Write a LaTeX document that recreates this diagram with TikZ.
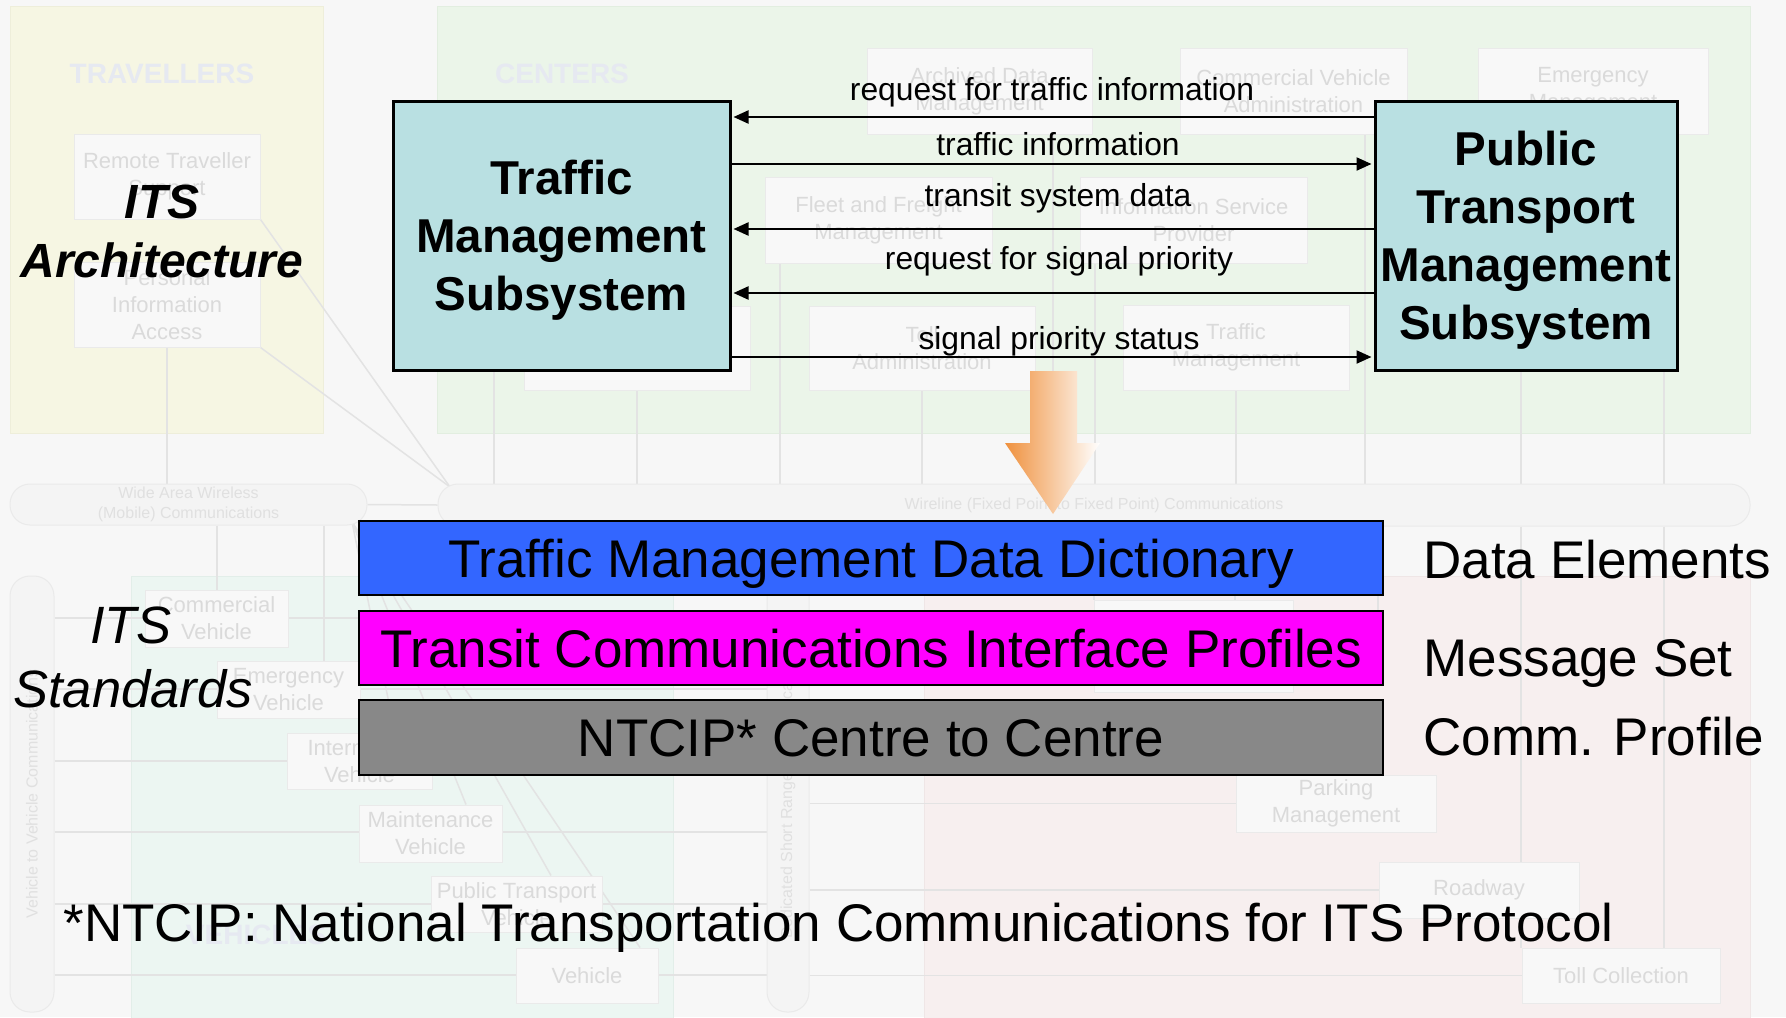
\documentclass[tikz,border=0pt]{standalone}
\usepackage{fontspec}
\setmainfont{Liberation Sans}
\usetikzlibrary{arrows.meta}

\definecolor{pagebg}{HTML}{F7F7F7}
\definecolor{travfill}{HTML}{F6F6E3}
\definecolor{travline}{HTML}{EEEEDA}
\definecolor{centfill}{HTML}{EBF5E9}
\definecolor{centline}{HTML}{E2EEE0}
\definecolor{vehfill}{HTML}{ECF6F2}
\definecolor{vehline}{HTML}{E2EEE9}
\definecolor{fieldfill}{HTML}{F7EFEF}
\definecolor{fieldline}{HTML}{EFE6E6}
\definecolor{boxfill}{HTML}{F8F8F8}
\definecolor{boxline}{HTML}{EAEAEA}
\definecolor{fadetxt}{HTML}{DADADA}
\definecolor{titletxt}{HTML}{E6E9F1}
\definecolor{linkc}{HTML}{E3E3E3}
\definecolor{pillfill}{HTML}{F4F4F4}
\definecolor{pilltxt}{HTML}{E0E0E0}
\definecolor{tealfill}{HTML}{B9E0E2}
\definecolor{ddblue}{HTML}{3366FF}
\definecolor{msgmag}{HTML}{FF00FF}
\definecolor{commgrey}{HTML}{888888}
\definecolor{arroworange}{HTML}{EF913E}

\newcommand\setfs[2]{\fontsize{#1}{#2}\selectfont}

\pgfdeclarelayer{regions}
\pgfdeclarelayer{links}
\pgfsetlayers{regions,links,main}

% faded architecture box given by its corners (pixel units)
\newcommand\fadedbox[6]{%
  \pgfmathsetmacro\bxw{(#4-#2)*0.5}%
  \pgfmathsetmacro\bxh{(#5-#3)*0.5}%
  \node[fbox, minimum width=\bxw pt, minimum height=\bxh pt] (#1)
    at ({(#2+#4)/2},{(#3+#5)/2}) {#6};}
% communication "sausage" given by its corners
\newcommand\pillbox[7]{%
  \pgfmathsetmacro\bxw{(#4-#2)*0.5}%
  \pgfmathsetmacro\bxh{(#5-#3)*0.5}%
  \node[pill, minimum width=\bxw pt, minimum height=\bxh pt] (#1)
    at ({(#2+#4)/2},{(#3+#5)/2}) {};
  \node[pilltext, #6] (#1-t) at (#1.center) {#7};}

\begin{document}
\begin{tikzpicture}[x=0.5pt,y=-0.5pt,
  fbox/.style={draw=boxline, fill=boxfill, line width=0.5pt, inner sep=0pt,
    align=center, text=fadetxt, font=\setfs{11pt}{13.4pt}},
  pill/.style={draw=boxline, fill=pillfill, line width=0.5pt, inner sep=0pt,
    rounded corners=10pt},
  pilltext/.style={text=pilltxt, font=\setfs{8pt}{10pt}, align=center, inner sep=0pt},
  regtitle/.style={text=titletxt, font=\bfseries\setfs{14pt}{16pt}, inner sep=0pt},
  link/.style={draw=linkc, line width=0.75pt},
  mainbox/.style={draw=black, line width=1.5pt, fill=tealfill, inner sep=0pt,
    align=center, font=\bfseries\setfs{23.75pt}{29pt}, text depth=0pt},
  flow/.style={line width=1.1pt, -{Triangle[length=7.5pt,width=6.5pt]}, shorten >=1pt},
  flowlbl/.style={font=\setfs{15.9pt}{19pt}, inner sep=0pt, anchor=base},
  stdbar/.style={draw=black, line width=1.4pt, inner sep=0pt,
    minimum width=512pt, minimum height=37pt,
    font=\setfs{26.5pt}{32pt}, text height=19pt, text depth=0pt},
  bigtxt/.style={font=\setfs{26.5pt}{32pt}, inner sep=0pt, anchor=base west},
]
\useasboundingbox (0,0) rectangle (1786,1017);

% ---------- background architecture ----------
\begin{pgfonlayer}{regions}
  \fill[pagebg] (0,0) rectangle (1786,1017);
  \filldraw[fill=travfill, draw=travline, line width=0.5pt] (10,6) rectangle (323,433);
  \filldraw[fill=centfill, draw=centline, line width=0.5pt] (437,6) rectangle (1750,433);
  \filldraw[fill=vehfill, draw=vehline, line width=0.5pt] (131,576) rectangle (673,1030);
  \filldraw[fill=fieldfill, draw=fieldline, line width=0.5pt] (924,576) rectangle (1750,1030);
\end{pgfonlayer}

\node[regtitle] (travtitle) at (162,74) {TRAVELLERS};
\node[regtitle] (centtitle) at (562,74) {CENTERS};
\node[regtitle] (vehtitle) at (256,935) {VEHICLES};

% traveller subsystems
\fadedbox{rts}{74}{134}{260}{219}{Remote Traveller\\Support}
\fadedbox{pia}{74}{262}{260}{347}{Personal\\Information\\Access}

% centre subsystems
\fadedbox{adm}{867}{48}{1092}{134}{Archived Data\\Management}
\fadedbox{cva}{1180}{48}{1407}{134}{Commercial Vehicle\\Administration}
\fadedbox{em}{1478}{48}{1708}{134}{Emergency\\Management}
\fadedbox{ffm}{765}{177}{992}{263}{Fleet and Freight\\Management}
\fadedbox{isp}{1080}{177}{1307}{263}{Information Service\\Provider}
\fadedbox{chid}{524}{306}{750}{390}{}
\fadedbox{toll}{809}{306}{1035}{390}{Toll\\Administration}
\fadedbox{trm}{1123}{305}{1349}{390}{Traffic\\Management}

% vehicle subsystems
\fadedbox{cv}{145}{590}{288}{647}{Commercial\\Vehicle}
\fadedbox{ev}{217}{661}{360}{718}{Emergency\\Vehicle}
\fadedbox{iv}{287}{733}{432}{789}{Intermodal\\Vehicle}
\fadedbox{mv}{359}{805}{502}{862}{Maintenance\\Vehicle}
\fadedbox{ptv}{431}{876}{602}{932}{Public Transport\\Vehicle}
\fadedbox{veh}{516}{948}{658}{1003}{Vehicle}

% field subsystems
\fadedbox{fhid}{1094}{600}{1293}{692}{}
\fadedbox{pm}{1236}{775}{1436}{832}{Parking\\Management}
\fadedbox{rw}{1379}{862}{1579}{918}{Roadway}
\fadedbox{tc}{1522}{948}{1720}{1003}{Toll Collection}

% communication channels
\pillbox{waw}{10}{484}{367}{525}{}{Wide Area Wireless\\(Mobile) Communications}
\pillbox{wire}{438}{484}{1750}{526}{}{Wireline (Fixed Point to Fixed Point) Communications}
\pillbox{v2v}{10}{576}{54}{1012}{rotate=90, yshift=0pt}{Vehicle to Vehicle Communications}
\pillbox{dsrc}{767}{576}{809}{1012}{rotate=90}{Dedicated Short Range Communications}

\coordinate (hub) at (450,487);
\coordinate (wawend) at (352,522);

\begin{pgfonlayer}{links}
  \draw[link] (pia.south) -- (pia.south |- waw.north);
  \draw[link] (rts.south east) -- (hub);
  \draw[link] (pia.south east) -- (hub);
  \draw[link] (waw.east) -- (wire.west);
  % centres to wireline
  \draw[link] (494,370) -- (wire.north -| 494,0);
  \draw[link] (chid.south) -- (chid.south |- wire.north);
  \draw[link] (ffm.south -| 780,0) -- (wire.north -| 780,0);
  \draw[link] (toll.south) -- (toll.south |- wire.north);
  \draw[link] (adm.south -| 1053,0) -- (wire.north -| 1053,0);
  \draw[link] (isp.south -| 1095,0) -- (wire.north -| 1095,0);
  \draw[link] (trm.south) -- (trm.south |- wire.north);
  \draw[link] (cva.south -| 1365,0) -- (wire.north -| 1365,0);
  \draw[link] (em.south -| 1521,0) -- (wire.north -| 1521,0);
  \draw[link] (em.south -| 1664,0) -- (wire.north -| 1664,0);
  % wireline to field
  \draw[link] (wire.south -| 1094,0) -- (fhid.north -| 1094,0);
  \draw[link] (wire.south -| 1235,0) -- (fhid.north -| 1235,0);
  \draw[link] (wire.south -| 1378,0) -- (1378,611);
  \draw[link] (wire.south -| 1521,0) -- (tc.north -| 1521,0);
  \draw[link] (wire.south -| 1664,0) -- (tc.north -| 1664,0);
  % wide area wireless to vehicles
  \draw[link] (waw.south -| 217,0) -- (cv.north -| 217,0);
  \draw[link] (waw.south -| 324,0) -- (ev.north -| 324,0);
  \draw[link] (wawend) -- (iv.north -| 395,0);
  \draw[link] (wawend) -- (mv.north -| 466,0);
  \draw[link] (wawend) -- (ptv.north -| 551,0);
  \draw[link] (wawend) -- (veh.north -| 640,0);
  % vehicle to vehicle and short range links
  \foreach \yy in {618,689,761,832,904,975}
    \draw[link] (v2v.east |- 0,\yy) -- (dsrc.west |- 0,\yy);
  \draw[link] (dsrc.east |- pm.west) -- (pm.west);
  \draw[link] (dsrc.east |- rw.west) -- (rw.west);
  \draw[link] (dsrc.east |- tc.west) -- (tc.west);
\end{pgfonlayer}

% ---------- foreground ----------
\node[font=\bfseries\itshape\setfs{24pt}{29pt}, inner sep=0pt, anchor=base] (itsa1) at (162,218) {ITS};
\node[font=\bfseries\itshape\setfs{24pt}{29pt}, inner sep=0pt, anchor=base] (itsa2) at (162,277) {Architecture};

\node[mainbox, minimum width=168.5pt, minimum height=134.5pt] (tms) at (561.5,235.5)
  {Traffic\\Management\\Subsystem};
\node[mainbox, minimum width=151pt, minimum height=134.5pt] (ptms) at (1526,235.5)
  {Public\\Transport\\Management\\Subsystem};

\draw[flow] (ptms.west |- 0,117) -- (tms.east |- 0,117);
\draw[flow] (tms.east |- 0,164) -- (ptms.west |- 0,164);
\draw[flow] (ptms.west |- 0,229) -- (tms.east |- 0,229);
\draw[flow] (ptms.west |- 0,293) -- (tms.east |- 0,293);
\draw[flow] (tms.east |- 0,357) -- (ptms.west |- 0,357);

\node[flowlbl] (f1) at (1052,100) {request for traffic information};
\node[flowlbl] (f2) at (1058,155) {traffic information};
\node[flowlbl] (f3) at (1058,206) {transit system data};
\node[flowlbl] (f4) at (1059,269) {request for signal priority};
\node[flowlbl] (f5) at (1059,349) {signal priority status};

% downward block arrow
\shade[left color=arroworange, right color=white]
  (1030,371) -- (1077,371) -- (1077,443) -- (1100,443) -- (1053,514)
  -- (1005,443) -- (1030,443) -- cycle;

% standards stack
\node[stdbar, fill=ddblue] (tmdd) at (871,558) {Traffic Management Data Dictionary};
\node[stdbar, fill=msgmag] (tcip) at (871,648) {Transit Communications Interface Profiles};
\node[stdbar, fill=commgrey, minimum height=37.5pt] (ntcip) at (871,737.5) {NTCIP* Centre to Centre};

\node[bigtxt] (lde) at (1423,578) {Data Elements};
\node[bigtxt] (lms) at (1423,676) {Message Set};
\node[bigtxt] (lcp) at (1423,755) {Comm. Profile};

\node[font=\itshape\setfs{26.25pt}{32pt}, inner sep=0pt, anchor=base] (itss1) at (131,643) {ITS};
\node[font=\itshape\setfs{26.25pt}{32pt}, inner sep=0pt, anchor=base] (itss2) at (133,707) {Standards};

\node[bigtxt] (note) at (63,941) {*NTCIP: National Transportation Communications for ITS Protocol};
\end{tikzpicture}
\end{document}
